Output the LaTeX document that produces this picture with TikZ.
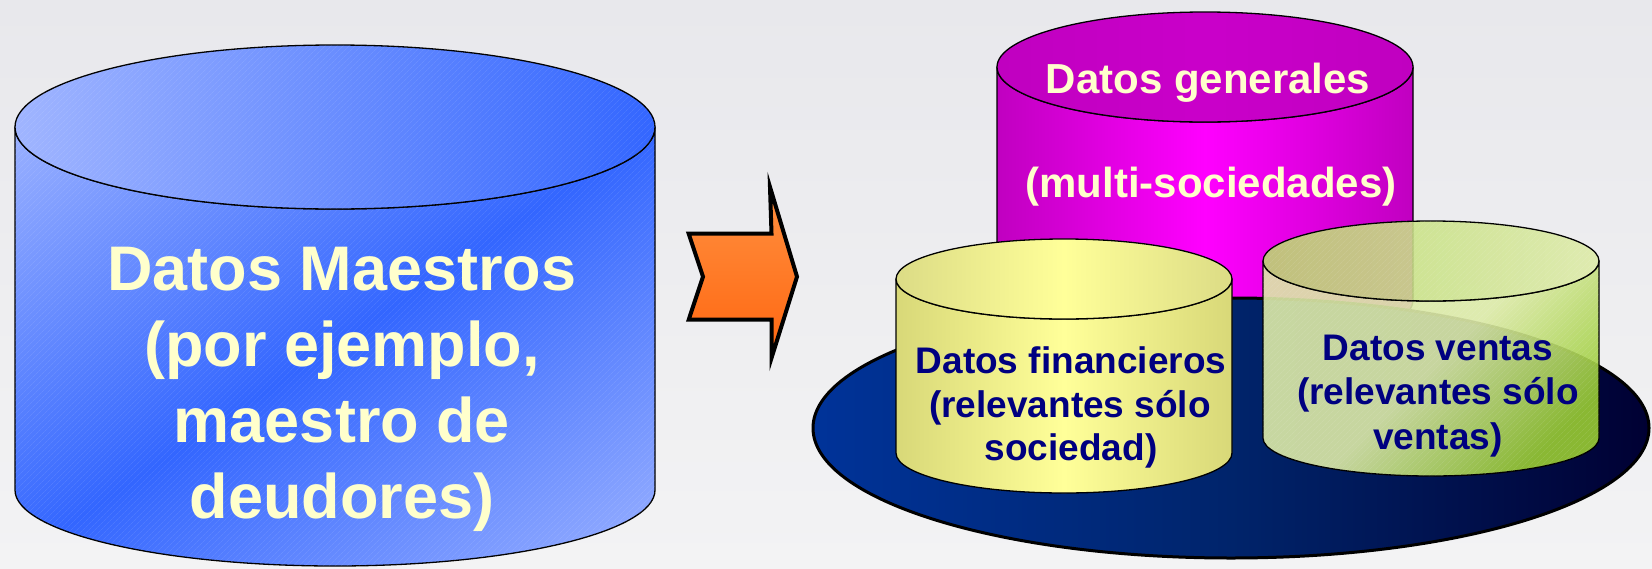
\documentclass[tikz,border=0pt]{standalone}
\usepackage{fontspec}
\setmainfont{Liberation Sans}
\usetikzlibrary{patterns.meta}
\definecolor{bgtop}{HTML}{E8E8EC}
\definecolor{bgbot}{HTML}{F3F3F4}
\definecolor{bluelt}{HTML}{A0B5FF}
\definecolor{bluedk}{HTML}{3366FF}
\definecolor{magdk}{HTML}{C000C0}
\definecolor{magmid}{HTML}{FF00FF}
\definecolor{ylwedge}{HTML}{D8D878}
\definecolor{ylwmid}{HTML}{FFFF99}
\definecolor{grnlt}{HTML}{DDEBA8}
\definecolor{grndk}{HTML}{99CC33}
\definecolor{navyA}{HTML}{003399}
\definecolor{navyB}{HTML}{00246B}
\definecolor{navyC}{HTML}{000033}
\definecolor{orlt}{HTML}{FF9040}
\definecolor{ordk}{HTML}{FF6610}
\definecolor{txtyel}{HTML}{FFFFCC}
\definecolor{txtnavy}{HTML}{000080}
\tikzset{
  cylline/.style={draw=black, line width=1.3pt},
  hatch/.style={postaction={fill opacity=0.14, pattern={Lines[angle=45,distance=4pt,line width=0.4pt]}, pattern color=white}},
  bigtxt/.style={font=\bfseries\fontsize{63}{76}\selectfont, text=txtyel, inner sep=0pt, anchor=base},
  magtxt/.style={font=\bfseries\fontsize{42}{50}\selectfont, text=txtyel, inner sep=0pt, anchor=base},
  smtxt/.style={font=\bfseries\fontsize{37}{44}\selectfont, text=txtnavy, inner sep=0pt, anchor=base},
}
\begin{document}
\begin{tikzpicture}[x=1pt,y=1pt,line join=round]
\useasboundingbox (0,0) rectangle (1652,-568);
\shade[top color=bgtop,bottom color=bgbot] (0,0) rectangle (1652,-568);

% ---- left cylinder
\begin{scope}
  \clip (15,-127) -- (15,-490) arc[start angle=180,end angle=360,x radius=320,y radius=76]
    -- (655,-127) arc[start angle=0,end angle=-180,x radius=320,y radius=82] -- cycle;
  \shade[top color=bluelt, bottom color=bluelt, middle color=bluedk, shading angle=34]
    (-45,-725) rectangle (715,35);
\end{scope}
\draw[cylline, hatch]
  (15,-127) -- (15,-490) arc[start angle=180,end angle=360,x radius=320,y radius=76]
  -- (655,-127) arc[start angle=0,end angle=-180,x radius=320,y radius=82] -- cycle;
\shadedraw[cylline, left color=bluelt, right color=bluedk, hatch]
  (335,-127) ellipse[x radius=320,y radius=82];
\node[bigtxt] (m1) at (342,-290) {Datos Maestros};
\node[bigtxt] (m2) at (342,-366) {(por ejemplo,};
\node[bigtxt] (m3) at (342,-442) {maestro de};
\node[bigtxt] (m4) at (342,-518) {deudores)};

% ---- arrow
\shadedraw[top color=orlt, bottom color=ordk, draw=black, line width=4pt, line join=miter, miter limit=10]
  (771.5,-233.7) -- (770,-187) -- (797,-276.7) -- (771.5,-358) -- (771.5,-319.7)
  -- (688.7,-319.7) -- (703,-276.7) -- (688.7,-233.7) -- cycle;

% ---- magenta cylinder (general data)
\shadedraw[cylline, left color=magdk, right color=magdk, middle color=magmid]
  (997,-67) -- (997,-300) arc[start angle=180,end angle=360,x radius=208,y radius=55]
  -- (1413,-67) arc[start angle=0,end angle=-180,x radius=208,y radius=55] -- cycle;
\shadedraw[cylline, left color=magdk, right color=magdk, middle color=magdk!85!magmid]
  (1205,-67) ellipse[x radius=208,y radius=55];
\node[magtxt] (g1) at (1208,-93.5) {Datos generales};
\node[magtxt] (g2) at (1211,-197) {(multi-sociedades)};

% ---- base platter
\shadedraw[draw=black, line width=3pt, left color=navyA, right color=navyC, middle color=navyB]
  (1231,-428) ellipse[x radius=418,y radius=130];

% ---- yellow cylinder (financial data)
\shadedraw[cylline, left color=ylwedge, right color=ylwedge, middle color=ylwmid]
  (896,-279) -- (896,-453) arc[start angle=180,end angle=360,x radius=168,y radius=40]
  -- (1232,-279) arc[start angle=0,end angle=-180,x radius=168,y radius=40] -- cycle;
\shadedraw[cylline, left color=ylwedge!90!white, right color=ylwedge!90!white, middle color=ylwmid]
  (1064,-279) ellipse[x radius=168,y radius=40];
\node[smtxt] (f1) at (1071,-373) {Datos financieros};
\node[smtxt] (f2) at (1070,-417) {(relevantes sólo};
\node[smtxt] (f3) at (1071,-460) {sociedad)};

% ---- green cylinder (sales data)
\shadedraw[cylline, top color=grnlt, bottom color=grndk, middle color=grnlt, shading angle=45, fill opacity=0.9, hatch]
  (1263,-261) -- (1263,-438) arc[start angle=180,end angle=360,x radius=168,y radius=38]
  -- (1599,-261) arc[start angle=0,end angle=-180,x radius=168,y radius=40] -- cycle;
\shadedraw[cylline, left color=grndk!50!grnlt, right color=grnlt, fill opacity=0.88, hatch]
  (1431,-261) ellipse[x radius=168,y radius=40];
\node[smtxt] (v1) at (1438,-360) {Datos ventas};
\node[smtxt] (v2) at (1438,-404) {(relevantes sólo};
\node[smtxt] (v3) at (1438,-449) {ventas)};
\end{tikzpicture}
\end{document}
